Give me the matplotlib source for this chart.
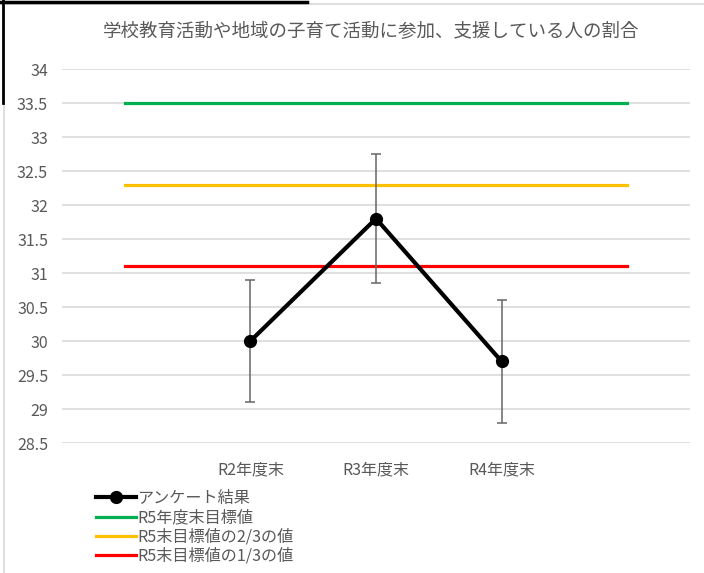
import matplotlib.pyplot as plt
from matplotlib.lines import Line2D

plt.rcParams['font.family'] = ['Noto Sans CJK JP', 'DejaVu Sans']

TEXT_GRAY = '#595959'
GRID_GRAY = '#d9d9d9'

# Category slots (Excel chart has blank categories at both ends)
categories = ['', 'R2年度末', 'R3年度末', 'R4年度末', '']
survey_idx = [1, 2, 3]
survey_values = [30.0, 31.8, 29.7]
survey_err = [0.9, 0.95, 0.9]

target_full = [33.5] * 5
target_two_thirds = [32.3] * 5
target_one_third = [31.1] * 5

labels = ['アンケート結果', 'R5年度末目標値', 'R5末目標値の2/3の値', 'R5末目標値の1/3の値']
title = '学校教育活動や地域の子育て活動に参加、支援している人の割合'
yticks = [28.5, 29, 29.5, 30, 30.5, 31, 31.5, 32, 32.5, 33, 33.5, 34]

fig = plt.figure(figsize=(7.04, 5.73), dpi=100)
ax = fig.add_axes([62 / 704, 1 - 443 / 573, 628 / 704, 374 / 573])

x_all = list(range(len(categories)))

# Reference lines
ax.plot(x_all, target_full, color='#00B050', lw=2.3, label=labels[1], zorder=3)
ax.plot(x_all, target_two_thirds, color='#FFC000', lw=2.3, label=labels[2], zorder=3)
ax.plot(x_all, target_one_third, color='#FF0000', lw=2.3, label=labels[3], zorder=3)

# Survey result with error bars
ax.errorbar(survey_idx, survey_values, yerr=survey_err, fmt='none',
            ecolor='#666666', elinewidth=1.1, capsize=3.5, capthick=1.1, zorder=4)
survey_line, = ax.plot(survey_idx, survey_values, color='black', lw=3,
                       marker='o', markersize=8.5, label=labels[0], zorder=5)

ax.set_xlim(-0.5, len(categories) - 0.5)
ax.set_ylim(28.5, 34)
ax.set_yticks(yticks)
ax.set_yticklabels([f'{v:g}' for v in yticks])
ax.set_xticks(x_all)
ax.set_xticklabels(categories)
ax.tick_params(axis='both', length=0, colors=TEXT_GRAY, labelsize=11.5)
ax.tick_params(axis='x', pad=13)
ax.tick_params(axis='y', pad=10)
ax.grid(axis='y', color=GRID_GRAY, lw=1.2, zorder=0)
for s in ax.spines.values():
    s.set_visible(False)

fig.text(371 / 704, 1 - 32 / 573, title, ha='center', va='center',
         fontsize=13.3, color=TEXT_GRAY)

handles, hl = ax.get_legend_handles_labels()
order = [hl.index(l) for l in labels]
fig.legend([handles[i] for i in order], [hl[i] for i in order],
           loc='upper left', bbox_to_anchor=(96 / 704, 1 - 490 / 573),
           frameon=False, fontsize=11.6, labelcolor=TEXT_GRAY,
           handlelength=2.5, handletextpad=0.05, labelspacing=0.14,
           borderpad=0, borderaxespad=0)

# chart border and screenshot edge
fig.add_artist(Line2D([4 / 704, 4 / 704], [0, 1], color=GRID_GRAY, lw=1.2))
fig.add_artist(Line2D([0, 1], [1 - 4 / 573, 1 - 4 / 573], color=GRID_GRAY, lw=1.2))
fig.add_artist(Line2D([0, 307 / 704], [1 - 2 / 573, 1 - 2 / 573], color='black', lw=2.5))
fig.add_artist(Line2D([3 / 704, 3 / 704], [1, 1 - 103 / 573], color='black', lw=2))

fig.savefig('out.png', dpi=100)
